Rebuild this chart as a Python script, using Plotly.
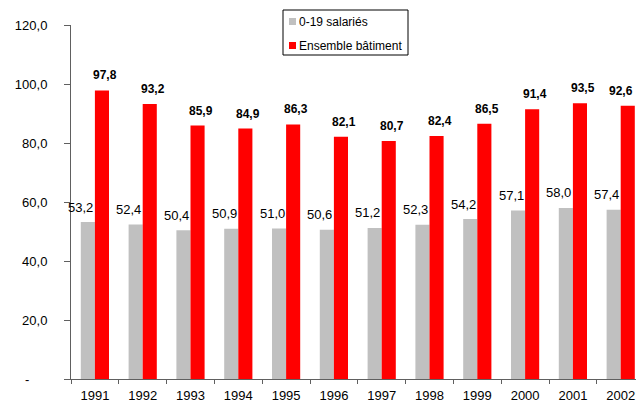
import plotly.graph_objects as go

years = ["1991", "1992", "1993", "1994", "1995", "1996", "1997", "1998", "1999", "2000", "2001", "2002"]
small = [53.2, 52.4, 50.4, 50.9, 51.0, 50.6, 51.2, 52.3, 54.2, 57.1, 58.0, 57.4]
total = [97.8, 93.2, 85.9, 84.9, 86.3, 82.1, 80.7, 82.4, 86.5, 91.4, 93.5, 92.6]
series_names = ["0-19 salariés", "Ensemble bâtiment"]
ytick_vals = [0, 20, 40, 60, 80, 100, 120]
ytick_text = ["-\u00a0\u00a0\u00a0\u00a0\u00a0", "20,0", "40,0", "60,0", "80,0", "100,0", "120,0"]

GRAY = "#C0C0C0"
RED = "#FF0000"
AXIS = "#606060"
FONT = "Liberation Sans, Arial, sans-serif"

W, H = 636, 402
ml, mr, mt, mb = 71, 0, 25, 23
pw, ph = W - ml - mr, H - mt - mb
XMIN, XMAX = -0.5, 11.32

def fr(v):
    return f"{v:.1f}".replace(".", ",")

xs = list(range(len(years)))

fig = go.Figure()
fig.add_trace(go.Bar(x=xs, y=small, name=series_names[0], marker=dict(color=GRAY, line=dict(width=0))))
fig.add_trace(go.Bar(x=xs, y=total, name=series_names[1], marker=dict(color=RED, line=dict(width=0))))

def cat_px(i):
    return ml + (i - XMIN) / (XMAX - XMIN) * pw

annotations = []
for i, v in enumerate(small):
    annotations.append(dict(x=i, y=v, xref="x", yref="y", text=fr(v), showarrow=False,
                            xshift=-14, yshift=15, yanchor="middle",
                            font=dict(family=FONT, size=13, color="#000000")))
for i, v in enumerate(total):
    shift = 10
    # keep label inside the picture (label half-width ~13px)
    if cat_px(i) + shift + 14 > W - 1:
        shift = W - 1 - 14 - cat_px(i)
    annotations.append(dict(x=i, y=v, xref="x", yref="y", text="<b>" + fr(v) + "</b>", showarrow=False,
                            xshift=shift, yshift=15, yanchor="middle",
                            font=dict(family=FONT, size=12, color="#000000")))

def px(x):
    return (x - ml) / pw

def py(y):
    return (H - mb - y) / ph

shapes = [
    dict(type="rect", xref="paper", yref="paper", x0=px(283), x1=px(408), y0=py(55), y1=py(10),
         line=dict(color="#000000", width=1), fillcolor="#FFFFFF", layer="above"),
    dict(type="rect", xref="paper", yref="paper", x0=px(289), x1=px(296), y0=py(25), y1=py(18),
         line=dict(width=0), fillcolor=GRAY, layer="above"),
    dict(type="rect", xref="paper", yref="paper", x0=px(289), x1=px(296), y0=py(49), y1=py(42),
         line=dict(width=0), fillcolor=RED, layer="above"),
]
annotations.append(dict(x=px(297), y=py(22), xref="paper", yref="paper", text=series_names[0], showarrow=False,
                        xanchor="left", yanchor="middle", font=dict(family=FONT, size=12, color="#000000")))
annotations.append(dict(x=px(297), y=py(46), xref="paper", yref="paper", text=series_names[1], showarrow=False,
                        xanchor="left", yanchor="middle", font=dict(family=FONT, size=12, color="#000000")))

fig.update_layout(
    width=W, height=H,
    margin=dict(l=ml, r=mr, t=mt, b=mb, pad=0, autoexpand=False),
    paper_bgcolor="#FFFFFF", plot_bgcolor="#FFFFFF",
    barmode="group", bargap=0.41, bargroupgap=0,
    showlegend=False,
    font=dict(family=FONT, size=12, color="#000000"),
    annotations=annotations,
    shapes=shapes,
    xaxis=dict(
        range=[XMIN, XMAX], tickvals=xs, ticktext=years, ticks="", ticklen=0,
        showline=True, linecolor=AXIS, linewidth=1, showgrid=False, zeroline=False,
        automargin=False,
        tickfont=dict(family=FONT, size=13, color="#000000"), ticklabelstandoff=4,
        minor=dict(tickvals=[i + 0.5 for i in xs[:-1]] + [-0.5], ticks="outside", ticklen=4,
                   tickcolor=AXIS, showgrid=False),
        fixedrange=True,
    ),
    yaxis=dict(
        range=[0, 120], tickvals=ytick_vals, ticktext=ytick_text, ticks="outside", ticklen=6,
        tickcolor=AXIS, showline=True, linecolor=AXIS, linewidth=1, showgrid=False, zeroline=False,
        automargin=False,
        tickfont=dict(family=FONT, size=13, color="#000000"), ticklabelstandoff=14,
        fixedrange=True,
    ),
)

fig.write_html("out.html", config={"displayModeBar": False},
               post_script="document.body.style.margin='0';document.body.style.overflow='hidden';")
